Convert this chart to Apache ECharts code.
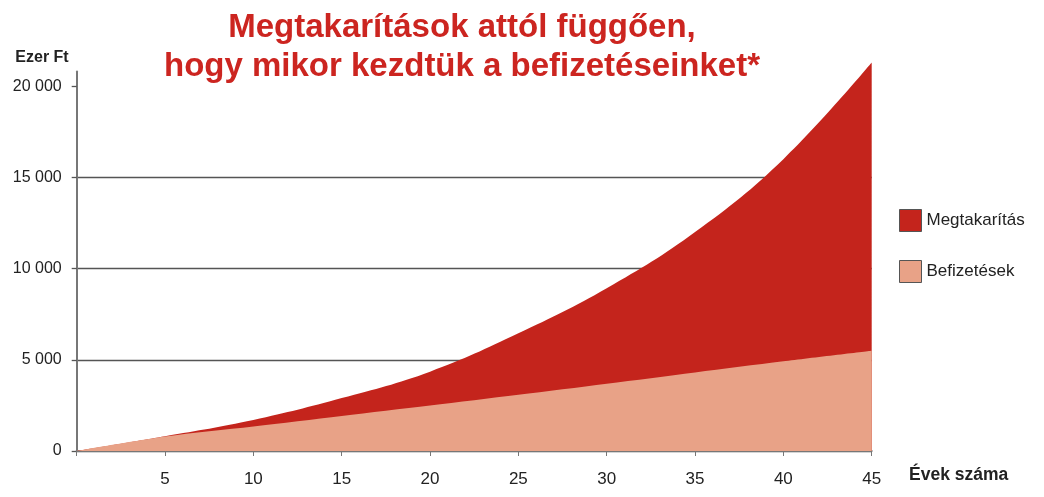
<!DOCTYPE html>
<html>
<head>
<meta charset="utf-8">
<script src="https://cdn.jsdelivr.net/npm/echarts@6/dist/echarts.min.js"></script>
<style>
html,body{margin:0;padding:0;background:#fff;}
#chart{width:1044px;height:497px;}
</style>
</head>
<body>
<div id="chart"></div>
<script>
const years = [0, 5, 10, 15, 20, 25, 30, 35, 40, 45];
const megtakaritas = [0, 810, 1700, 2900, 4350, 6450, 8920, 12000, 16000, 21300];
const befizetesek = [0, 790, 1340, 1920, 2490, 3080, 3690, 4310, 4920, 5500];
const yTicks = [0, 5000, 10000, 15000, 20000];
const xTicks = [5, 10, 15, 20, 25, 30, 35, 40, 45];

const fmt = v => String(v).replace(/\B(?=(\d{3})+(?!\d))/g, ' ');
const pairs = vals => years.map((y, i) => [y, vals[i]]);

const chart = echarts.init(document.getElementById('chart'), null, {renderer: 'canvas'});
chart.setOption({
  animation: false,
  backgroundColor: '#fff',
  textStyle: {fontFamily: 'Liberation Sans, Arial, sans-serif'},
  title: [{
    text: 'Megtakarítások attól függően,\nhogy mikor kezdtük a befizetéseinket*',
    left: 457, top: 3, textAlign: 'center',
    textStyle: {color: '#CC2520', fontSize: 33, fontWeight: 'bold', lineHeight: 39,
      fontFamily: 'Liberation Sans, Arial, sans-serif'}
  }, {
    text: 'Évek száma', left: 904, top: 461,
    textStyle: {color: '#222', fontSize: 17.5, fontWeight: 'bold', fontFamily: 'Liberation Sans, Arial, sans-serif'}
  }],
  legend: {
    orient: 'vertical', left: 894, top: 204,
    itemWidth: 22, itemHeight: 22, itemGap: 28, icon: 'rect',
    itemStyle: {borderColor: '#555', borderWidth: 1},
    textStyle: {fontSize: 17, color: '#222'},
    data: ['Megtakarítás', 'Befizetések']
  },
  grid: {left: 76.7, right: 172.3, top: 71.6, bottom: 46, containLabel: false},
  xAxis: {
    type: 'value', min: 0, max: 45, interval: 5,
    axisLine: {show: true, lineStyle: {color: '#777', width: 2}},
    axisTick: {show: true, length: 5, lineStyle: {color: '#777', width: 1}},
    axisLabel: {customValues: xTicks, margin: 20, fontSize: 17, color: '#222',
      fontFamily: 'Liberation Sans Narrow, Arial Narrow, Liberation Sans, sans-serif'},
    splitLine: {show: false}
  },
  yAxis: {
    type: 'value', min: 0, max: 20800, interval: 5000,
    name: 'Ezer Ft', nameLocation: 'end', nameGap: 6,
    nameTextStyle: {fontSize: 16, fontWeight: 'bold', color: '#222', align: 'right', padding: [0, 8, 0, 0]},
    axisLine: {show: true, lineStyle: {color: '#777', width: 2}},
    axisTick: {show: true, customValues: yTicks, length: 5, lineStyle: {color: '#555', width: 1.3}},
    axisLabel: {customValues: yTicks, margin: 15, fontSize: 16, color: '#222', formatter: fmt},
    splitLine: {show: true, showMaxLine: false, lineStyle: {color: '#555', width: 1.3}}
  },
  series: [
    {
      name: 'Megtakarítás', type: 'line', data: pairs(megtakaritas),
      smooth: 0.4, symbol: 'none', clip: false,
      lineStyle: {width: 0}, itemStyle: {color: '#C4241C'},
      areaStyle: {color: '#C4241C', opacity: 1}, z: 2
    },
    {
      name: 'Befizetések', type: 'line', data: pairs(befizetesek),
      smooth: 0.3, symbol: 'none', clip: false,
      lineStyle: {width: 0}, itemStyle: {color: '#E8A287'},
      areaStyle: {color: '#E8A287', opacity: 1}, z: 3
    }
  ]
});
</script>
</body>
</html>
